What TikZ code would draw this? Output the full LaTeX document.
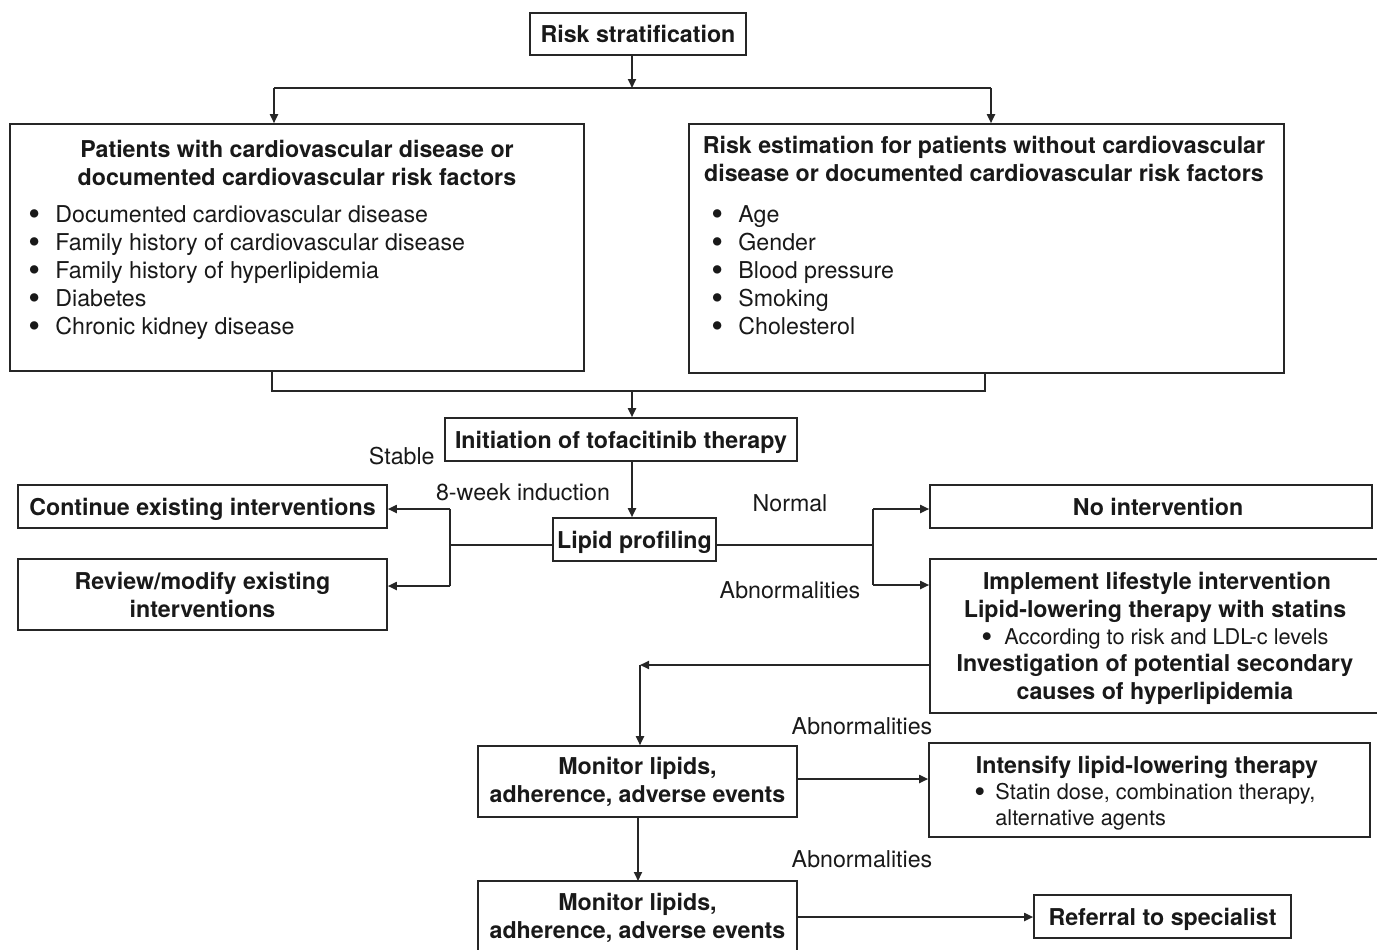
\documentclass[tikz,border=0pt]{standalone}
\usepackage{fontspec}
\setmainfont{TeX Gyre Heros}
\usetikzlibrary{arrows.meta}
\newcommand\myBold{\fontsize{11.6}{14}\selectfont\bfseries}
\newcommand\myReg{\fontsize{11.6}{14}\selectfont}
\newcommand\mySmall{\fontsize{10.85}{13}\selectfont}
\newcommand\bigdot{\smash{\raisebox{-0.3ex}{\scalebox{1.45}{\textbullet}}}}
\begin{document}
\begin{tikzpicture}[x=0.5pt,y=-0.5pt,
  box/.style={draw=black!85, line width=0.8pt, inner sep=0pt, align=center, font=\myBold, text=black!90},
  one/.style={text depth=0pt},
  title/.style={inner sep=0pt, align=center, font=\myBold, text=black!90, anchor=base},
  list/.style={inner sep=0pt, align=left, font=\myReg, text=black!90, anchor=base west},
  small/.style={inner sep=0pt, align=left, font=\mySmall, text=black!90, anchor=base west},
  lbl/.style={inner sep=0pt, font=\myReg, text=black!90, anchor=base},
  conn/.style={draw=black!85, line width=0.9pt},
  arr/.style={conn, -{Triangle[length=4.5pt,width=4pt]}},
]
\useasboundingbox (0,0) rectangle (1377,949);
\newcommand\bul{\makebox[13.5pt][l]{\bigdot}}

% boxes
\node[box, one, minimum width=108pt, minimum height=21pt] (risk) at (638,34) {Risk stratification};
\node[box, minimum width=287pt, minimum height=123.5pt] (left) at (297,247.5) {};
\node[box, minimum width=297.5pt, minimum height=124.5pt] (right) at (986.5,248.5) {};
\node[box, one, minimum width=176pt, minimum height=21.5pt] (init) at (621,439.5) {Initiation of tofacitinib therapy};
\node[box, one, minimum width=81.5pt, minimum height=21.5pt] (lipid) at (634.5,539.5) {Lipid profiling};
\node[box, one, minimum width=184.5pt, minimum height=21.5pt] (cont) at (202.5,506.5) {Continue existing interventions};
\node[box, minimum width=184.5pt, minimum height=35.5pt] (rev) at (202.5,594.5) {Review/modify existing\\interventions};
\node[box, minimum width=221pt, minimum height=21.5pt] (noint) at (1151,506.5) {};
\node[box, minimum width=225.5pt, minimum height=77pt] (impl) at (1155.5,636) {};
\node[box, minimum width=159.5pt, minimum height=35.5pt] (mon1) at (637.5,781.5) {Monitor lipids,\\adherence, adverse events};
\node[box, minimum width=220.5pt, minimum height=47pt] (intens) at (1149.5,790) {};
\node[box, minimum width=159.5pt, minimum height=37pt] (mon2) at (637.5,918) {Monitor lipids,\\adherence, adverse events};
\node[box, one, minimum width=128.5pt, minimum height=21.5pt] (ref) at (1162.5,916.5) {Referral to specialist};

% texts inside boxes (base = baseline of last line)
\node[title] (lefttitle) at (297,185) {Patients with cardiovascular disease or\\documented cardiovascular risk factors};
\node[list] (leftlist) at (28,334) {\bul Documented cardiovascular disease\\\bul Family history of cardiovascular disease\\\bul Family history of hyperlipidemia\\\bul Diabetes\\\bul Chronic kidney disease};
\node[title] (righttitle) at (984,181) {Risk estimation for patients without cardiovascular\\disease or documented cardiovascular risk factors};
\node[list] (rightlist) at (711,334) {\bul Age\\\bul Gender\\\bul Blood pressure\\\bul Smoking\\\bul Cholesterol};
\node[title] (nointt) at (1158,515) {No intervention};
\node[title] (implA) at (1157,589) {Implement lifestyle intervention};
\node[title] (implB) at (1155,617) {Lipid-lowering therapy with statins};
\node[small] (implC) at (981,644) {\makebox[11.5pt][l]{\bigdot}According to risk and LDL-c levels};
\node[title] (implD) at (1155,699) {Investigation of potential secondary\\causes of hyperlipidemia};
\node[title] (intA) at (1147,773) {Intensify lipid-lowering therapy};
\node[small] (intB) at (974,825) {\makebox[10.5pt][l]{\bigdot}Statin dose, combination therapy,\\\makebox[10.5pt][l]{}alternative agents};

% labels
\node[lbl, anchor=base east] (stable) at (435,464) {Stable};
\node[lbl] (induct) at (523,500) {8-week induction};
\node[lbl] (normal) at (790,511) {Normal};
\node[lbl] (abn1) at (790,598) {Abnormalities};
\node[lbl] (abn2) at (862,734) {Abnormalities};
\node[lbl] (abn3) at (862,867) {Abnormalities};

% coordinates
\coordinate (j1) at (632,88);
\coordinate (la) at (274,88);
\coordinate (ra) at (991,88);
\coordinate (lb) at (272,391);
\coordinate (rb) at (985,391);
\coordinate (j2) at (632,391);
\coordinate (lj) at (450,545);
\coordinate (rj) at (873,545);
\coordinate (c1) at (640,665);

% connectors
\draw[arr] (j1 |- risk.south) -- (j1);
\draw[conn] (la) -- (ra);
\draw[arr] (la) -- (la |- left.north);
\draw[arr] (ra) -- (ra |- right.north);
\draw[conn] (lb |- left.south) -- (lb) -- (rb) -- (rb |- right.south);
\draw[arr] (j2) -- (j2 |- init.north);
\draw[arr] (j2 |- init.south) -- (j2 |- lipid.north);
\draw[conn] (lipid.west |- lj) -- (lj);
\draw[conn] (lj |- 0,509) -- (lj |- 0,586);
\draw[arr] (lj |- 0,509) -- (cont.east |- 0,509);
\draw[arr] (lj |- 0,586) -- (rev.east |- 0,586);
\draw[conn] (lipid.east |- rj) -- (rj);
\draw[conn] (rj |- 0,509) -- (rj |- 0,585);
\draw[arr] (rj |- 0,509) -- (noint.west |- 0,509);
\draw[arr] (rj |- 0,585) -- (impl.west |- 0,585);
\draw[arr] (impl.west |- c1) -- (c1);
\draw[arr] (c1) -- (c1 |- mon1.north);
\draw[arr] (mon1.east |- 0,779) -- (intens.west |- 0,779);
\draw[arr] (638,817) -- (638,881);
\draw[arr] (mon2.east |- 0,917) -- (ref.west |- 0,917);
\end{tikzpicture}
\end{document}
